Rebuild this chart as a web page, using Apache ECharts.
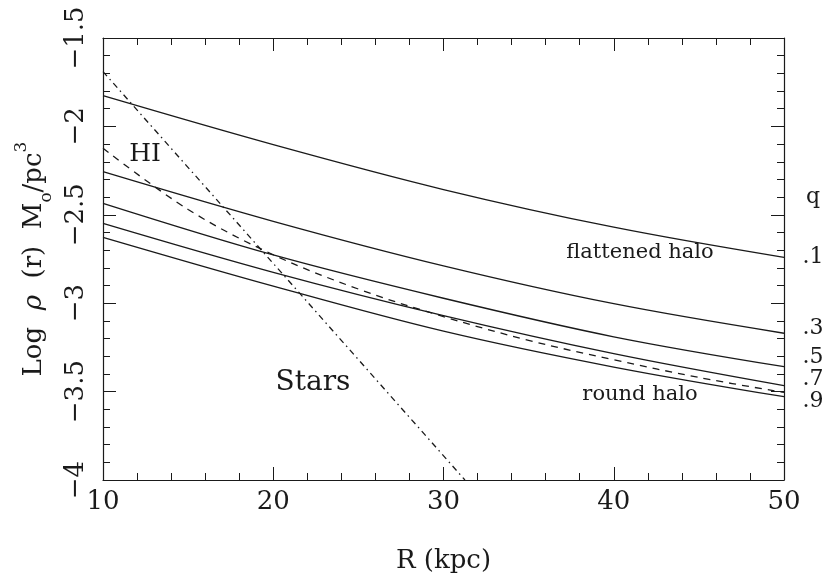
<!DOCTYPE html>
<html>
<head>
<meta charset="utf-8">
<script src="https://cdn.jsdelivr.net/npm/echarts@6/dist/echarts.min.js"></script>
<style>html,body{margin:0;padding:0;background:#fff}#c{width:829px;height:580px}</style>
</head>
<body>
<div id="c"></div>
<script>
// ---- data ----
const R = [10, 20, 30, 40, 50];
const halo_q1 = [-1.826, -2.103, -2.357, -2.570, -2.741];
const halo_q3 = [-2.256, -2.537, -2.789, -3.003, -3.170];
const halo_q5 = [-2.435, -2.727, -2.972, -3.190, -3.359];
const halo_q7 = [-2.548, -2.825, -3.070, -3.285, -3.466];
const halo_q9 = [-2.627, -2.903, -3.158, -3.361, -3.529];
const R_HI = [10, 15, 20, 25, 30, 35, 40, 45, 50];
const HI = [-2.124, -2.47, -2.726, -2.92, -3.076, -3.21, -3.32, -3.42, -3.505];
const R_stars = [10, 20, 31.26];
const stars = [-1.69, -2.775, -4.0];
const xTickLabels = {10:'10', 20:'20', 30:'30', 40:'40', 50:'50'};
const yTickLabels = {'-4':'−4', '-3.5':'−3.5', '-3':'−3', '-2.5':'−2.5', '-2':'−2', '-1.5':'−1.5'};
const qLabels = ['q', '.1', '.3', '.5', '.7', '.9'];

// ---- chart ----
const FONT = '"DejaVu Serif", "Liberation Serif", serif';
const INK = '#1a1a1a';
const pairs = (xs, ys) => xs.map((x, i) => [x, ys[i]]);
const chart = echarts.init(document.getElementById('c'), null, {renderer: 'canvas'});

const tickCommon = {
  axisLine: {show: true, lineStyle: {color: INK, width: 1.2}},
  axisTick: {show: true, inside: true, length: 13, lineStyle: {color: INK, width: 1}},
  minorTick: {show: true, splitNumber: 5, length: 7, lineStyle: {color: INK, width: 1}},
  splitLine: {show: false},
  minorSplitLine: {show: false}
};

function lineSeries(name, xs, ys, type, smooth) {
  return {
    name, type: 'line', data: pairs(xs, ys), showSymbol: false, symbol: 'none',
    smooth: smooth, clip: true, silent: true,
    lineStyle: {color: INK, width: 1.3, type: type}
  };
}

const qYs = [197, 257, 328, 357, 379, 401];
const txt = (text, x, y, size) => ({
  type: 'text', x, y, z: 100,
  style: {text, font: size + 'px ' + FONT, fill: INK, textAlign: 'center', textVerticalAlign: 'middle', verticalAlign: 'middle'}
});

const option = {
  backgroundColor: '#fff',
  animation: false,
  grid: {left: 103, right: 45, top: 38, bottom: 100, containLabel: false, outerBoundsMode: 'none'},
  xAxis: [
    Object.assign({
      type: 'value', min: 10, max: 50, interval: 10, position: 'bottom',
      name: 'R (kpc)', nameLocation: 'middle', nameGap: 68,
      nameTextStyle: {fontFamily: FONT, fontSize: 26, color: INK},
      axisLabel: {fontFamily: FONT, fontSize: 26, color: INK, margin: 9,
        formatter: v => xTickLabels[v] || ''}
    }, tickCommon),
    Object.assign({
      type: 'value', min: 10, max: 50, interval: 10, position: 'top',
      axisLabel: {show: false}
    }, tickCommon)
  ],
  yAxis: [
    Object.assign({
      type: 'value', min: -4, max: -1.5, interval: 0.5, position: 'left',
      name: '{t|Log  }{g|ρ}{t|  (r)  M}{sub|o}{t|/pc}{sup|3}',
      nameLocation: 'middle', nameGap: 46, nameRotate: 90,
      nameTextStyle: {
        fontFamily: FONT, fontSize: 26, color: INK,
        rich: {
          t: {fontFamily: FONT, fontSize: 26, color: INK, lineHeight: 30, verticalAlign: 'middle'},
          g: {fontFamily: FONT, fontSize: 26, color: INK, fontStyle: 'italic', lineHeight: 30, verticalAlign: 'middle'},
          sub: {fontFamily: FONT, fontSize: 17, color: INK, verticalAlign: 'bottom', lineHeight: 30, padding: [0,0,-6,0]},
          sup: {fontFamily: FONT, fontSize: 17, color: INK, verticalAlign: 'top', lineHeight: 30, padding: [-6,0,0,0]}
        }
      },
      axisLabel: {fontFamily: FONT, fontSize: 26, color: INK, rotate: 90, margin: 14,
        formatter: v => yTickLabels[String(Math.round(v * 10) / 10)] || ''}
    }, tickCommon),
    Object.assign({
      type: 'value', min: -4, max: -1.5, interval: 0.5, position: 'right',
      axisLabel: {show: false}
    }, tickCommon)
  ],
  series: [
    lineSeries('q=.1', R, halo_q1, 'solid', 0.35),
    lineSeries('q=.3', R, halo_q3, 'solid', 0.35),
    lineSeries('q=.5', R, halo_q5, 'solid', 0.35),
    lineSeries('q=.7', R, halo_q7, 'solid', 0.35),
    lineSeries('q=.9', R, halo_q9, 'solid', 0.35),
    lineSeries('HI', R_HI, HI, [7, 6], 0.35),
    lineSeries('Stars', R_stars, stars, [6, 4, 1.5, 4], false)
  ],
  graphic: [
    txt('HI', 145, 154, 25),
    txt('Stars', 313, 383, 28),
    txt('flattened halo', 640, 253, 21),
    txt('round halo', 640, 395, 21)
  ].concat(qLabels.map((t, i) => txt(t, 813, qYs[i], 22)))
};
chart.setOption(option);
</script>
</body>
</html>
